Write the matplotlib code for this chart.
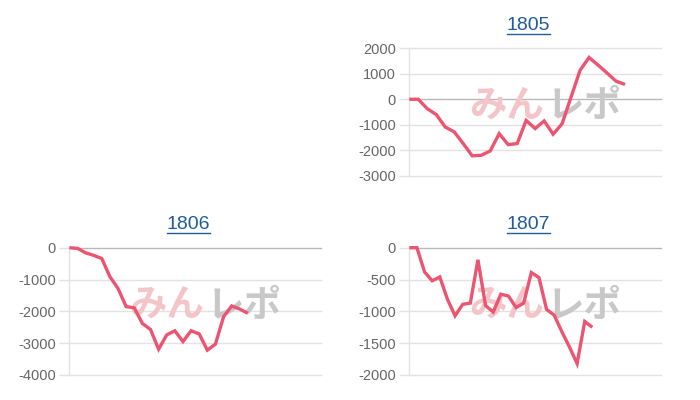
import matplotlib
matplotlib.use("Agg")
import matplotlib.pyplot as plt
from matplotlib.lines import Line2D

plt.rcParams['font.family'] = ['Liberation Sans', 'DejaVu Sans']

titles = ["1805", "1806", "1807"]
values_1805 = [0, 0, -370, -600, -1090, -1280, -1740, -2220, -2200, -2030, -1350,
               -1780, -1740, -830, -1150, -850, -1370, -960, 90, 1140, 1640, 1340,
               1030, 710, 580]
values_1806 = [0, -20, -160, -240, -340, -910, -1280, -1850, -1890, -2380, -2570,
               -3190, -2740, -2610, -2950, -2610, -2710, -3220, -3030, -2170, -1830,
               -1930, -2060]
values_1807 = [0, 0, -380, -520, -460, -810, -1070, -890, -870, -190, -910, -1010,
               -730, -760, -940, -870, -390, -470, -970, -1060, -1320, -1560, -1820,
               -1160, -1250]
x_spans = [28, 31, 33]
y_ranges = [(-3000, 2000, 1000), (-4000, 0, 1000), (-2000, 0, 500)]

series = [values_1805, values_1806, values_1807]

W, H = 700, 400
fig = plt.figure(figsize=(7, 4), dpi=100)

# panel geometry in pixels: (left, top, right, bottom)
boxes = [(409.3, 48.3, 661, 175.7), (69.3, 247.7, 321, 375), (409.3, 247.7, 661, 375)]
title_pos = [(528, 25), (188, 224), (528, 224)]

line_color = "#EC5470"
grid_color = "#E2E2E2"
zero_color = "#B8B8B8"
tick_text = "#666666"
title_color = "#1F5C99"

for vals, title, span, (ymin, ymax, step), (l, t, r, b), (tx, ty) in zip(
        series, titles, x_spans, y_ranges, boxes, title_pos):
    ax = fig.add_axes([l / W, 1 - b / H, (r - l) / W, (b - t) / H])
    ax.set_xlim(0, span)
    ax.set_ylim(ymin, ymax)
    ticks = list(range(ymin, ymax + 1, step))
    ax.set_yticks(ticks)
    ax.set_yticklabels([str(v) for v in ticks])
    ax.set_xticks([])
    for s in ["top", "right", "bottom"]:
        ax.spines[s].set_visible(False)
    ax.spines["left"].set_color(grid_color)
    ax.spines["left"].set_linewidth(1)
    ax.tick_params(axis="y", length=7, width=1, color=grid_color, pad=2.5,
                   labelsize=10.5, labelcolor=tick_text)
    for tk, v in zip(ax.yaxis.get_major_ticks(), ticks):
        if v == 0:
            tk.tick1line.set_color(zero_color)
    for v in ticks:
        ax.axhline(v, color=zero_color if v == 0 else grid_color, lw=1, zorder=1,
                   clip_on=False)

    # watermark
    ax.text(0.535, 0.55, "みん", transform=ax.transAxes, ha="right", va="center",
            fontsize=27, fontweight="bold", color="#F3C4C8",
            family=["Noto Sans CJK JP", "DejaVu Sans"], zorder=2)
    ax.text(0.545, 0.55, "レポ", transform=ax.transAxes, ha="left", va="center",
            fontsize=27, fontweight="bold", color="#C8C8C8",
            family=["Noto Sans CJK JP", "DejaVu Sans"], zorder=2)

    ax.plot(range(len(vals)), vals, color=line_color, lw=2.4, zorder=3,
            solid_joinstyle="miter", solid_capstyle="butt", clip_on=False)

    # title (underlined link)
    fig.text(tx / W, 1 - ty / H, title, ha="center", va="center", fontsize=14,
             color=title_color)
    fig.add_artist(Line2D([(tx - 21.5) / W, (tx + 21.5) / W],
                          [1 - (ty + 9) / H, 1 - (ty + 9) / H],
                          color=title_color, lw=1))

fig.savefig("out.png", dpi=100, facecolor="white")
